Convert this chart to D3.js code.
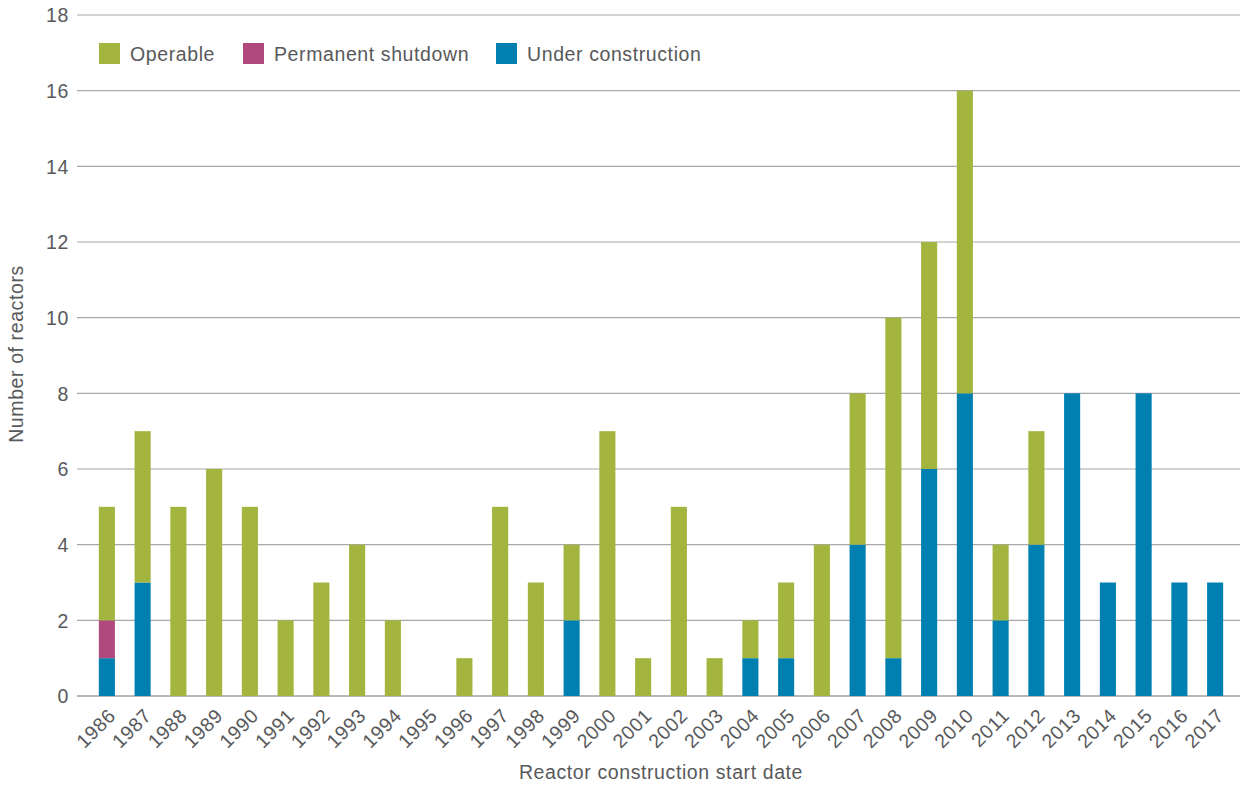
<!DOCTYPE html>
<html>
<head>
<meta charset="utf-8">
<script src="https://cdn.jsdelivr.net/npm/d3@7"></script>
<style>
	body { margin: 0; background: #fff; }
	text { font-family: "Liberation Sans", Arial, sans-serif; fill: #58595b; letter-spacing: 0.6px; }
	.axis text { font-size: 19.5px; }
	.axis path, .axis line { display: none; }
</style>
</head>
<body>
<div class="d3"></div>
<script>
var years = ["1986","1987","1988","1989","1990","1991","1992","1993","1994","1995","1996","1997","1998","1999","2000","2001",
	"2002","2003","2004","2005","2006","2007","2008","2009","2010","2011","2012","2013","2014","2015","2016","2017"];
var underConstruction = [1,3,0,0,0,0,0,0,0,0,0,0,0,2,0,0,0,0,1,1,0,4,1,6,8,2,4,8,3,8,3,3];
var permanentShutdown = [1,0,0,0,0,0,0,0,0,0,0,0,0,0,0,0,0,0,0,0,0,0,0,0,0,0,0,0,0,0,0,0];
var operable          = [3,4,5,6,5,2,3,4,2,0,1,5,3,2,7,1,5,1,1,2,4,4,9,6,8,2,3,0,0,0,0,0];
var yTicks = [0,2,4,6,8,10,12,14,16,18];

var series = [
	{key: "Under construction", color: "#0080b1", values: underConstruction},
	{key: "Permanent shutdown", color: "#b04a7c", values: permanentShutdown},
	{key: "Operable", color: "#a3b43f", values: operable}
];
var legendOrder = [series[2], series[1], series[0]];
var legendX = [99, 243, 496];

var w = 1240, h = 785;
var svg = d3.select(".d3").append("svg").attr("width", w).attr("height", h);

var xScale = d3.scaleBand().domain(years).range([89, 1233]).paddingInner(0.55).paddingOuter(0.275);
var yScale = d3.scaleLinear().domain([0, 18]).range([696, 15]);

// grid
svg.append("g").selectAll("line")
	.data(yTicks)
	.enter().append("line")
	.attr("x1", 77).attr("x2", w)
	.attr("y1", d => yScale(d)).attr("y2", d => yScale(d))
	.attr("stroke", d => d == 0 ? "#a0a0a0" : "#a8a8a8")
	.attr("stroke-width", d => d == 0 ? 1.6 : 1.2);

// stacked bars
var rows = years.map((y, i) => {
	var r = {year: y};
	series.forEach(s => r[s.key] = s.values[i]);
	return r;
});
var stack = d3.stack().keys(series.map(s => s.key))(rows);

svg.append("g").selectAll("g")
	.data(stack)
	.enter().append("g")
	.attr("fill", (d, i) => series[i].color)
	.selectAll("rect")
	.data(d => d)
	.enter().append("rect")
	.attr("x", d => xScale(d.data.year))
	.attr("width", xScale.bandwidth())
	.attr("y", d => yScale(d[1]))
	.attr("height", d => yScale(d[0]) - yScale(d[1]));

// y axis
var yAxis = d3.axisLeft(yScale).tickValues(yTicks).tickSize(0).tickPadding(0);
svg.append("g")
	.attr("class", "axis")
	.attr("transform", "translate(69,0)")
	.call(yAxis)
	.selectAll("text").attr("dy", "0.35em");

// x axis
var xAxis = d3.axisBottom(xScale).tickSize(0).tickPadding(0);
svg.append("g")
	.attr("class", "axis")
	.attr("transform", "translate(0,696)")
	.call(xAxis)
	.selectAll("text")
	.attr("text-anchor", "end")
	.attr("dy", 0)
	.attr("transform", "translate(10,21) rotate(-45)");

// axis titles
svg.append("text")
	.attr("x", 661).attr("y", 779)
	.attr("text-anchor", "middle")
	.style("font-size", "19.5px")
	.text("Reactor construction start date");

svg.append("text")
	.attr("transform", "translate(23,354) rotate(-90)")
	.attr("text-anchor", "middle")
	.style("font-size", "19.5px")
	.text("Number of reactors");

// legend
var legend = svg.append("g").selectAll("g")
	.data(legendOrder)
	.enter().append("g")
	.attr("transform", (d, i) => "translate(" + legendX[i] + ",43)");
legend.append("rect")
	.attr("width", 21).attr("height", 21)
	.attr("fill", d => d.color);
legend.append("text")
	.attr("x", 31).attr("y", 18)
	.style("font-size", "19.5px")
	.text(d => d.key);
</script>
</body>
</html>
